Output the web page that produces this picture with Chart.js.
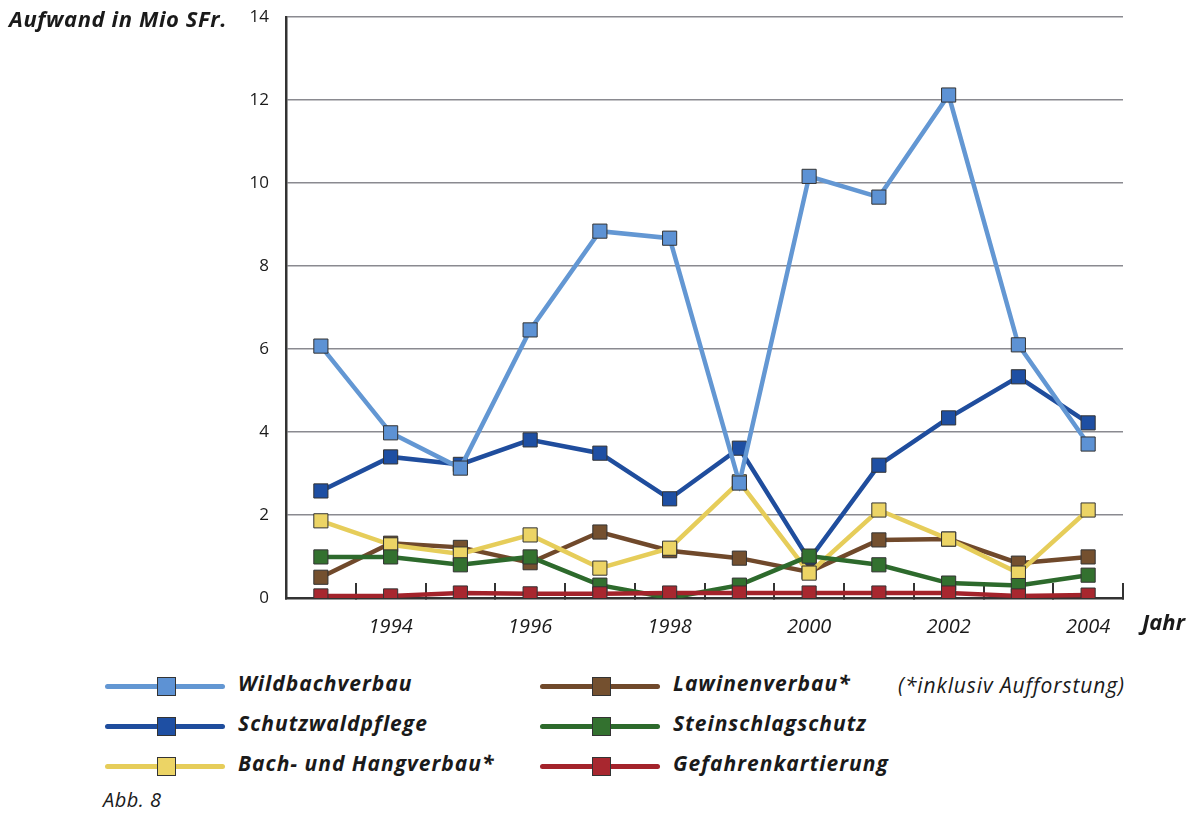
<!DOCTYPE html>
<html lang="de">
<head>
<meta charset="UTF-8">
<title>Abb. 8</title>
<script src="https://cdn.jsdelivr.net/npm/chart.js"></script>
<style>
  body { margin: 0; background: #fff; width: 1200px; height: 817px; position: relative; overflow: hidden;
         font-family: "Open Sans", Lato, sans-serif; color: #1a1a1a; }
  #wrap { position: absolute; left: 0; top: 0; width: 1200px; height: 660px; }
  .txt { position: absolute; font-style: italic; white-space: nowrap; }
  .b { font-weight: bold; }
  .leg { position: absolute; height: 30px; }
  .leg .ln { position: absolute; left: 0; top: 12px; width: 120px; height: 5px; border-radius: 3px; }
  .leg .sq { position: absolute; left: 52px; top: 5px; width: 17px; height: 17px; border: 1.5px solid #333; }
  .leg .lb { position: absolute; left: 133px; top: -3px; font-size: 21px; letter-spacing: 1px; font-weight: bold; font-style: italic; white-space: nowrap; }
</style>
</head>
<body>
<div id="wrap"><canvas id="c"></canvas></div>
<div class="txt b" style="left:9px; top:3px; font-size:22px; letter-spacing:0.6px;">Aufwand in Mio SFr.</div>
<div class="txt b" style="left:1142px; top:606px; font-size:22px;">Jahr</div>
<div class="txt" style="left:898px; top:671px; font-size:21px; letter-spacing:0.9px;">(*inklusiv Aufforstung)</div>
<div class="txt" style="left:103px; top:786px; font-size:20px; letter-spacing:0.5px;">Abb. 8</div>
<div id="legend"></div>
<script>
const years = ['1993','1994','1995','1996','1997','1998','1999','2000','2001','2002','2003','2004'];

const wildbachverbau     = [6.07, 3.98, 3.13, 6.46, 8.84, 8.67, 2.77, 10.16, 9.66, 12.12, 6.10, 3.71];
const schutzwaldpflege   = [2.58, 3.40, 3.22, 3.81, 3.49, 2.39, 3.61, 0.92, 3.20, 4.34, 5.33, 4.22];
const bachHangverbau     = [1.86, 1.28, 1.06, 1.52, 0.72, 1.20, 2.80, 0.60, 2.12, 1.42, 0.60, 2.12];
const lawinenverbau      = [0.50, 1.32, 1.22, 0.85, 1.59, 1.14, 0.96, 0.63, 1.40, 1.42, 0.84, 0.99];
const steinschlagschutz  = [0.99, 0.99, 0.80, 0.99, 0.31, 0.00, 0.31, 1.01, 0.80, 0.36, 0.30, 0.55];
const gefahrenkartierung = [0.05, 0.05, 0.12, 0.10, 0.10, 0.12, 0.12, 0.12, 0.12, 0.12, 0.05, 0.07];

// legend order (column 1 then column 2)
const series = [
  { label: 'Wildbachverbau',       data: wildbachverbau,     line: '#6397d3', fill: '#5d92d4', order: 2, col: 0, row: 0 },
  { label: 'Schutzwaldpflege',     data: schutzwaldpflege,   line: '#1f4d9d', fill: '#1e4fa3', order: 5, col: 0, row: 1 },
  { label: 'Bach- und Hangverbau*',data: bachHangverbau,     line: '#e6cd5a', fill: '#ecd465', order: 3, col: 0, row: 2 },
  { label: 'Lawinenverbau*',       data: lawinenverbau,      line: '#70492b', fill: '#74502f', order: 4, col: 1, row: 0 },
  { label: 'Steinschlagschutz',    data: steinschlagschutz,  line: '#2d6a2c', fill: '#33712f', order: 1, col: 1, row: 1 },
  { label: 'Gefahrenkartierung',   data: gefahrenkartierung, line: '#a3232b', fill: '#a8272f', order: 0, col: 1, row: 2 }
];

// legend
const legend = document.getElementById('legend');
series.forEach(s => {
  const d = document.createElement('div');
  d.className = 'leg';
  d.style.left = (s.col === 0 ? 105 : 540) + 'px';
  d.style.top = (672 + s.row * 40) + 'px';
  d.innerHTML = `<div class="ln" style="background:${s.line}"></div>` +
                `<div class="sq" style="background:${s.fill}"></div>` +
                `<div class="lb">${s.label}</div>`;
  legend.appendChild(d);
});

new Chart(document.getElementById('c').getContext('2d'), {
  type: 'line',
  data: {
    labels: years,
    datasets: series.map(s => ({
      label: s.label,
      data: s.data,
      order: s.order,
      borderColor: s.line,
      borderWidth: 4.5,
      tension: 0,
      pointStyle: 'rect',
      pointRadius: 10,
      pointHoverRadius: 10,
      pointBackgroundColor: s.fill,
      pointBorderColor: '#333',
      pointBorderWidth: 1
    }))
  },
  options: {
    responsive: true,
    maintainAspectRatio: false,
    animation: false,
    layout: { padding: { left: 0, right: 77, top: 17, bottom: 0 } },
    plugins: { legend: { display: false }, tooltip: { enabled: false } },
    scales: {
      x: {
        type: 'category',
        offset: true,
        afterFit: s => { s.height = 62; s.paddingTop = 0; s.paddingBottom = 0; },
        grid: { offset: true, drawOnChartArea: false, drawTicks: true, tickLength: -15, color: '#333', lineWidth: 2 },
        border: { display: true, color: '#333', width: 2.5 },
        ticks: {
          autoSkip: false, maxRotation: 0, padding: 32, color: '#1a1a1a',
          font: { family: 'Open Sans', size: 20, style: 'italic' },
          callback: (v, i) => (parseInt(years[i]) % 2 === 0 ? years[i] : '')
        }
      },
      y: {
        min: 0, max: 14,
        afterFit: s => { s.width = 286; s.paddingTop = 0; s.paddingBottom = 0; },
        grid: { color: '#8a8a90', lineWidth: 1.5, drawTicks: false },
        border: { display: true, color: '#333', width: 2.5 },
        ticks: {
          stepSize: 2, padding: 17, color: '#1a1a1a',
          font: { family: 'Open Sans', size: 17 }
        }
      }
    }
  }
});
</script>
</body>
</html>
